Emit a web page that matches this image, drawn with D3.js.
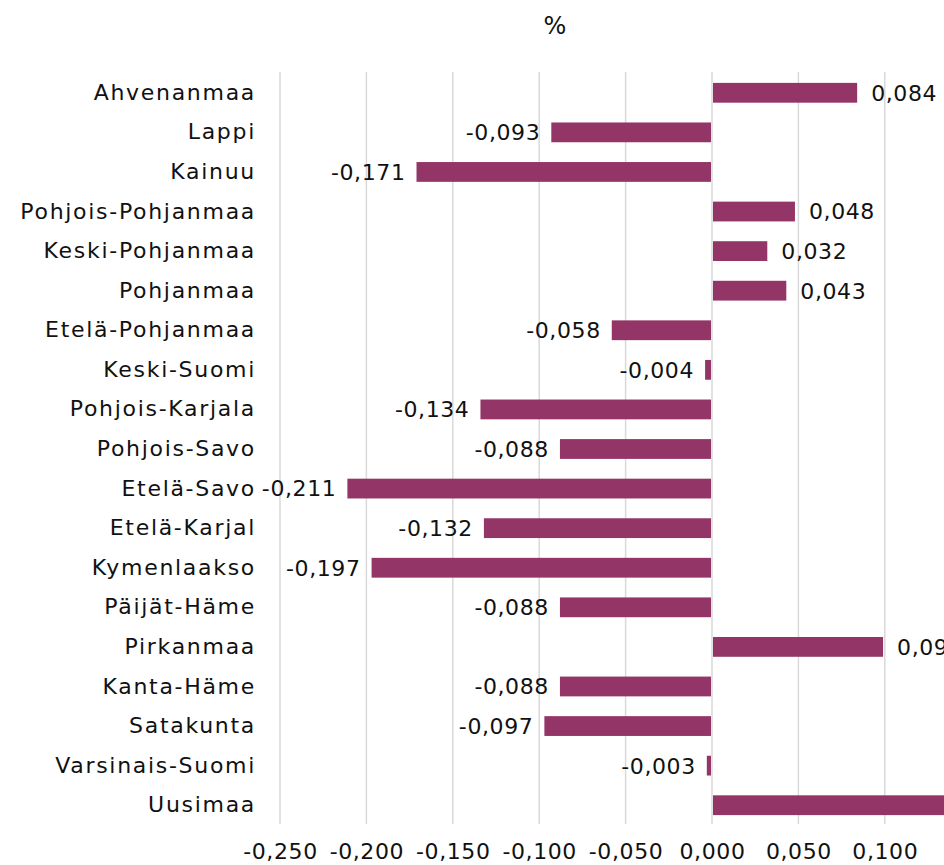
<!DOCTYPE html>
<html><head><meta charset="utf-8">
<script src="https://cdn.jsdelivr.net/npm/d3@7"></script>
<style>
html,body{margin:0;padding:0;background:#fff;overflow:hidden;width:944px;height:865px;}
text{font-family:"DejaVu Sans",sans-serif;fill:#111;}
</style></head><body>
<script>
const categories = ["Ahvenanmaa","Lappi","Kainuu","Pohjois-Pohjanmaa","Keski-Pohjanmaa","Pohjanmaa","Etelä-Pohjanmaa","Keski-Suomi","Pohjois-Karjala","Pohjois-Savo","Etelä-Savo","Etelä-Karjal","Kymenlaakso","Päijät-Häme","Pirkanmaa","Kanta-Häme","Satakunta","Varsinais-Suomi","Uusimaa"];
const values = [0.084,-0.093,-0.171,0.048,0.032,0.043,-0.058,-0.004,-0.134,-0.088,-0.211,-0.132,-0.197,-0.088,0.099,-0.088,-0.097,-0.003,0.160];
const tickValues = [-0.25,-0.2,-0.15,-0.1,-0.05,0,0.05,0.1];
const title = "%";

const fmt = v => d3.format(".3f")(v).replace("−","-").replace(".",",");
const FONT = "'DejaVu Sans', sans-serif";
const FS = 22, LS_CAT = "1.7px", LS_NUM = "0.6px";

const W = 944, H = 865;
const svg = d3.select("body").append("svg").attr("width", W).attr("height", H);

const x = d3.scaleLinear().domain([-0.25, 0.15]).range([280, 280 + 0.4*1728]);
const y = d3.scaleBand().domain(categories).range([72, 824]).paddingInner(0.5).paddingOuter(0.25);

// gridlines
svg.append("g").selectAll("line").data(tickValues).join("line")
  .attr("x1", d => x(d)).attr("x2", d => x(d))
  .attr("y1", 72).attr("y2", 824)
  .attr("stroke", "#d9d9d9").attr("stroke-width", 1.5);

// bars
svg.append("g").selectAll("rect").data(values).join("rect")
  .attr("x", d => d < 0 ? x(d) : x(0) + 1)
  .attr("width", d => Math.abs(x(d) - x(0)) - 1)
  .attr("y", (d, i) => y(categories[i]) + 1)
  .attr("height", y.bandwidth())
  .attr("fill", "#933566");

// value labels
svg.append("g").selectAll("text").data(values).join("text")
  .attr("x", d => d < 0 ? x(d) - 11 : x(d) + 14)
  .attr("y", (d, i) => y(categories[i]) + y.bandwidth()/2 + 1)
  .attr("dy", "0.36em")
  .attr("text-anchor", d => d < 0 ? "end" : "start")
  .attr("font-size", FS).attr("letter-spacing", LS_NUM)
  .text(d => fmt(d));

// category labels
const yAxis = d3.axisLeft(y).tickSize(0).tickPadding(0);
const yg = svg.append("g").attr("transform", "translate(256,1)").call(yAxis);
yg.select(".domain").remove();
yg.selectAll("text").attr("font-size", FS).attr("letter-spacing", LS_CAT).attr("fill", "#111").attr("font-family", FONT);

// x axis
const xAxis = d3.axisBottom(x).tickValues(tickValues).tickSize(0).tickPadding(0).tickFormat(fmt);
const xg = svg.append("g").attr("transform", "translate(0,843)").call(xAxis);
xg.select(".domain").remove();
xg.selectAll("text").attr("font-size", FS).attr("letter-spacing", LS_NUM).attr("fill", "#111").attr("font-family", FONT);

// title
svg.append("text").attr("x", 555).attr("y", 25).attr("dy", "0.36em")
  .attr("text-anchor", "middle").attr("font-size", 24).text(title);
</script>
</body></html>
